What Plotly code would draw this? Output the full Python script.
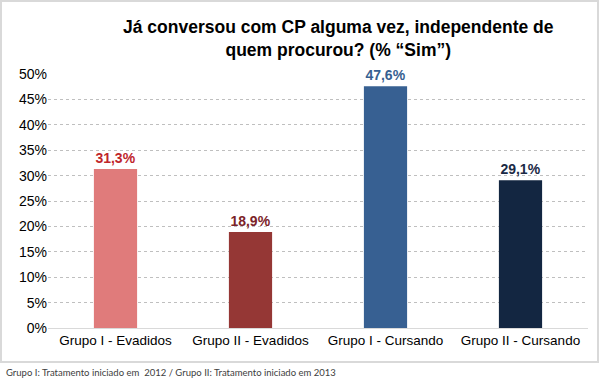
import plotly.graph_objects as go

categories = ["Grupo I - Evadidos", "Grupo II - Evadidos", "Grupo I - Cursando", "Grupo II - Cursando"]
values = [0.313, 0.189, 0.476, 0.291]
value_labels = ["31,3%", "18,9%", "47,6%", "29,1%"]
bar_colors = ["#E07B7B", "#953735", "#376092", "#132641"]
label_colors = ["#C0262B", "#7B2428", "#365F91", "#1B2A45"]
tick_vals = [0, 0.05, 0.10, 0.15, 0.20, 0.25, 0.30, 0.35, 0.40, 0.45, 0.50]
tick_text = ["0%", "5%", "10%", "15%", "20%", "25%", "30%", "35%", "40%", "45%", "50%"]

W, H = 600, 380
ML, MR, MT, MB = 48, 12, 74, 52
PW, PH = W - ML - MR, H - MT - MB
FONT = "Liberation Sans, Arial"

def px(x):
    return (x - ML) / PW

def py(y):
    return (H - MB - y) / PH

fig = go.Figure(go.Bar(
    x=categories, y=values,
    marker=dict(color=bar_colors, line=dict(width=0)),
    text=["<b>" + t + "</b>" for t in value_labels], textposition="outside",
    textfont=dict(family=FONT, size=14, color=label_colors),
    cliponaxis=False,
    width=0.32,
))

fig.update_layout(
    width=W, height=H,
    margin=dict(l=ML, r=MR, t=MT, b=MB, autoexpand=False),
    paper_bgcolor="white", plot_bgcolor="white",
    showlegend=False,
    bargap=0.68,
    font=dict(family=FONT, color="#000000"),
    xaxis=dict(
        tickfont=dict(family=FONT, size=13.5, color="#000000"),
        showline=True, linecolor="#D9D9D9", linewidth=1,
        ticks="", showgrid=False, tickangle=0, automargin=False,
    ),
    yaxis=dict(
        range=[0, 0.5], tickvals=tick_vals, ticktext=tick_text,
        tickfont=dict(family=FONT, size=14, color="#000000"),
        showgrid=True, gridcolor="#BFBFBF", griddash="dot", gridwidth=1,
        zeroline=False, showline=False, ticks="", automargin=False,
    ),
    annotations=[
        dict(text="<b>Já conversou com CP alguma vez, independente de<br>quem procurou? (% “Sim”)</b>",
             xref="paper", yref="paper", x=px(338), y=py(38), xanchor="center", yanchor="middle",
             showarrow=False, font=dict(family=FONT, size=17.5, color="#000000")),
        dict(text="Grupo I: Tratamento iniciado em  2012 / Grupo II: Tratamento iniciado em 2013",
             xref="paper", yref="paper", x=px(4), y=py(372), xanchor="left", yanchor="middle",
             showarrow=False, font=dict(family="Lato", size=9.5, color="#404040")),
    ],
    shapes=[
        dict(type="rect", xref="paper", yref="paper",
             x0=px(1), x1=px(598), y0=py(362), y1=py(1),
             line=dict(color="#D9D9D9", width=2), fillcolor="rgba(0,0,0,0)", layer="below"),
    ],
)

fig.write_html("out.html", config={"displayModeBar": False},
               post_script="document.body.style.margin='0';document.body.style.overflow='hidden';")
